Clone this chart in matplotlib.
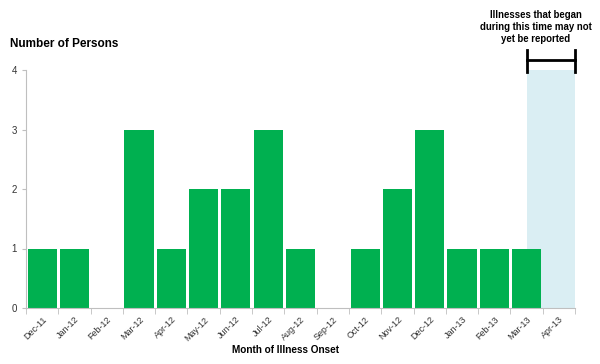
import numpy as np
import matplotlib.pyplot as plt

plt.rcParams["font.family"] = ["Liberation Sans", "DejaVu Sans"]

months = ["Dec-11", "Jan-12", "Feb-12", "Mar-12", "Apr-12", "May-12", "Jun-12",
          "Jul-12", "Aug-12", "Sep-12", "Oct-12", "Nov-12", "Dec-12", "Jan-13",
          "Feb-13", "Mar-13", "Apr-13"]
persons = [1, 1, 0, 3, 1, 2, 2, 3, 1, 0, 1, 2, 3, 1, 1, 1, 0]
y_ticks = [0, 1, 2, 3, 4]

green = "#00B050"
shade = "#DAEEF3"
axis_grey = "#BFBFBF"

fig = plt.figure(figsize=(6.0, 3.64), dpi=100)
ax = fig.add_axes([26 / 600, 1 - 308 / 364, (575 - 26) / 600, (308 - 70) / 364])

x = np.arange(len(months))
# reporting-lag shading: middle of Mar-13 to end of Apr-13
ax.axvspan(len(months) - 2, len(months) - 0.5, color=shade, zorder=0, lw=0)
ax.bar(x, persons, width=0.9, color=green, zorder=2)

ax.set_xlim(-0.5, len(months) - 0.5)
ax.set_ylim(0, 4)
ax.set_yticks(y_ticks)
ax.tick_params(axis="y", labelsize=7, colors=axis_grey, labelcolor="#333333", length=3)

ax.set_xticks(x)
ax.set_xticklabels(months, rotation=45, ha="right", rotation_mode="anchor", fontsize=6.5,
                   color="#333333")
ax.tick_params(axis="x", length=0, pad=5)
ax.set_xticks(np.arange(-0.5, len(months)), minor=True)
ax.tick_params(axis="x", which="minor", length=4, color=axis_grey)

for s in ["top", "right"]:
    ax.spines[s].set_visible(False)
for s in ["left", "bottom"]:
    ax.spines[s].set_color(axis_grey)

fig.text(10 / 600, 1 - 44 / 364, "Number of Persons", fontsize=8.5, fontweight="bold",
         va="center", ha="left")
fig.text(285 / 600, 1 - 350 / 364, "Month of Illness Onset", fontsize=7.2, fontweight="bold",
         va="center", ha="center")

# bracket above the shaded period
x0, x1 = len(months) - 2, len(months) - 0.5
ax.plot([x0, x1], [4.17, 4.17], color="black", lw=2, clip_on=False)
ax.plot([x0, x0], [3.97, 4.34], color="black", lw=2, clip_on=False)
ax.plot([x1, x1], [3.97, 4.34], color="black", lw=2, clip_on=False)
fig.text(536 / 600, 1 - 27 / 364, "Illnesses that began\nduring this time may not\nyet be reported",
         fontsize=6.9, fontweight="bold", ha="center", va="center", linespacing=1.3)

fig.savefig("out.png", dpi=100)
